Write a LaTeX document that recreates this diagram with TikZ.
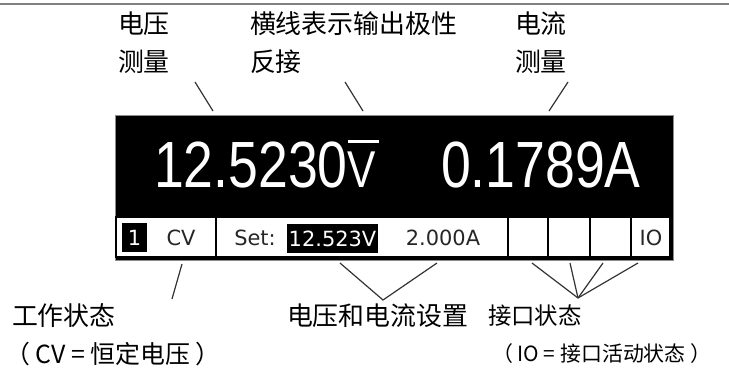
\documentclass[tikz,border=0pt]{standalone}
\usepackage{fontspec}
\setmainfont{Liberation Sans}
\newfontfamily\cjk{Noto Sans CJK SC}
\newfontfamily\lcdfont[FakeStretch=0.82]{Liberation Sans}
\newfontfamily\rowfont{DejaVu Sans}
\newcommand{\barV}{\makebox[0pt][l]{\rule[44bp]{31bp}{3bp}}{\fontsize{52}{52}\selectfont V}}

\begin{document}
\begin{tikzpicture}[x=1bp,y=-1bp,
    every node/.style={inner sep=0pt,outer sep=0pt},
    label/.style={font=\cjk\fontsize{26}{38}\selectfont,align=left,anchor=west},
    cell/.style={draw=black,line width=1.5bp,fill=white,anchor=north west,minimum height=40bp},
    rowtxt/.style={font=\rowfont\fontsize{21}{21}\selectfont,text=black!85},
    reading/.style={font=\lcdfont\fontsize{65.6}{66}\selectfont,text=white,anchor=base west},
    lead/.style={black!80,line width=1.2bp}]

    \useasboundingbox (0,0) rectangle (729,371);

    % top rule
    \draw[black!50,line width=2bp] (0,3.5) -- (729,3.5);

    % display
    \node[fill=black,draw=black!45,line width=1bp,anchor=north west,
          minimum width=558bp,minimum height=145bp] (lcd) at (115,115) {};
    \node[reading] (vread) at (154,187) {12.5230\barV};
    \node[reading] (iread) at (441,187) {0.1789A};

    % status row
    \node[cell,minimum width=100bp] (opcell) at (116,217) {};
    \node[cell,minimum width=292bp] (setcell) at (216,217) {};
    \node[cell,minimum width=40bp] (ifcell1) at (508,217) {};
    \node[cell,minimum width=42bp] (ifcell2) at (548,217) {};
    \node[cell,minimum width=41bp] (ifcell3) at (590,217) {};
    \node[cell,minimum width=39bp] (ifcell4) at (631,217) {};
    \node[rowtxt,fill=black,text=white,minimum width=25bp,minimum height=29bp] (chan) at (134.5,237.5) {1};
    \node[rowtxt] (cv) at (181,238) {CV};
    \node[rowtxt] (setlbl) at (255,238) {Set:};
    \node[rowtxt,fill=black,text=white,minimum width=91bp,minimum height=29bp] (vset) at (332.5,238.5) {12.523V};
    \node[rowtxt] (iset) at (443,238) {2.000A};
    \node[rowtxt] (io) at (651,238) {IO};

    % labels
    \node[label] (vmeas) at (118,43) {电压\\测量};
    \node[label] (polar) at (250,43) {横线表示输出极性\\反接};
    \node[label] (imeas) at (515,43) {电流\\测量};
    \node[label] (opstate) at (12,316) {工作状态};
    \node[label,font=\cjk\fontsize{25}{30}\selectfont] (opnote) at (5,354) {（ CV = 恒定电压 ）};
    \node[label] (setvi) at (287,316) {电压和电流设置};
    \node[label,font=\cjk\fontsize{23.5}{30}\selectfont] (ifstate) at (488,316) {接口状态};
    \node[label,font=\cjk\fontsize{21}{30}\selectfont] (ifnote) at (492,354) {（ IO = 接口活动状态 ）};

    % leader lines
    \coordinate (vm-a) at (195,82);  \coordinate (vm-b) at (213,111);
    \coordinate (pl-a) at (345,82);  \coordinate (pl-b) at (363,111);
    \coordinate (im-a) at (568,82);  \coordinate (im-b) at (549,111);
    \coordinate (op-a) at (182,264); \coordinate (op-b) at (172,299);
    \coordinate (sv-tip) at (383,300);
    \coordinate (sv-a) at (340,263); \coordinate (sv-b) at (437,263);
    \coordinate (if-tip) at (578,298);
    \foreach \n/\x in {a/532,b/570,c/603,d/638}
        \coordinate (if-\n) at (\x,263);

    \draw[lead] (vm-a) -- (vm-b);
    \draw[lead] (pl-a) -- (pl-b);
    \draw[lead] (im-a) -- (im-b);
    \draw[lead] (op-a) -- (op-b);
    \draw[lead] (sv-a) -- (sv-tip) -- (sv-b);
    \foreach \n in {a,b,c,d}
        \draw[lead] (if-tip) -- (if-\n);
\end{tikzpicture}
\end{document}
